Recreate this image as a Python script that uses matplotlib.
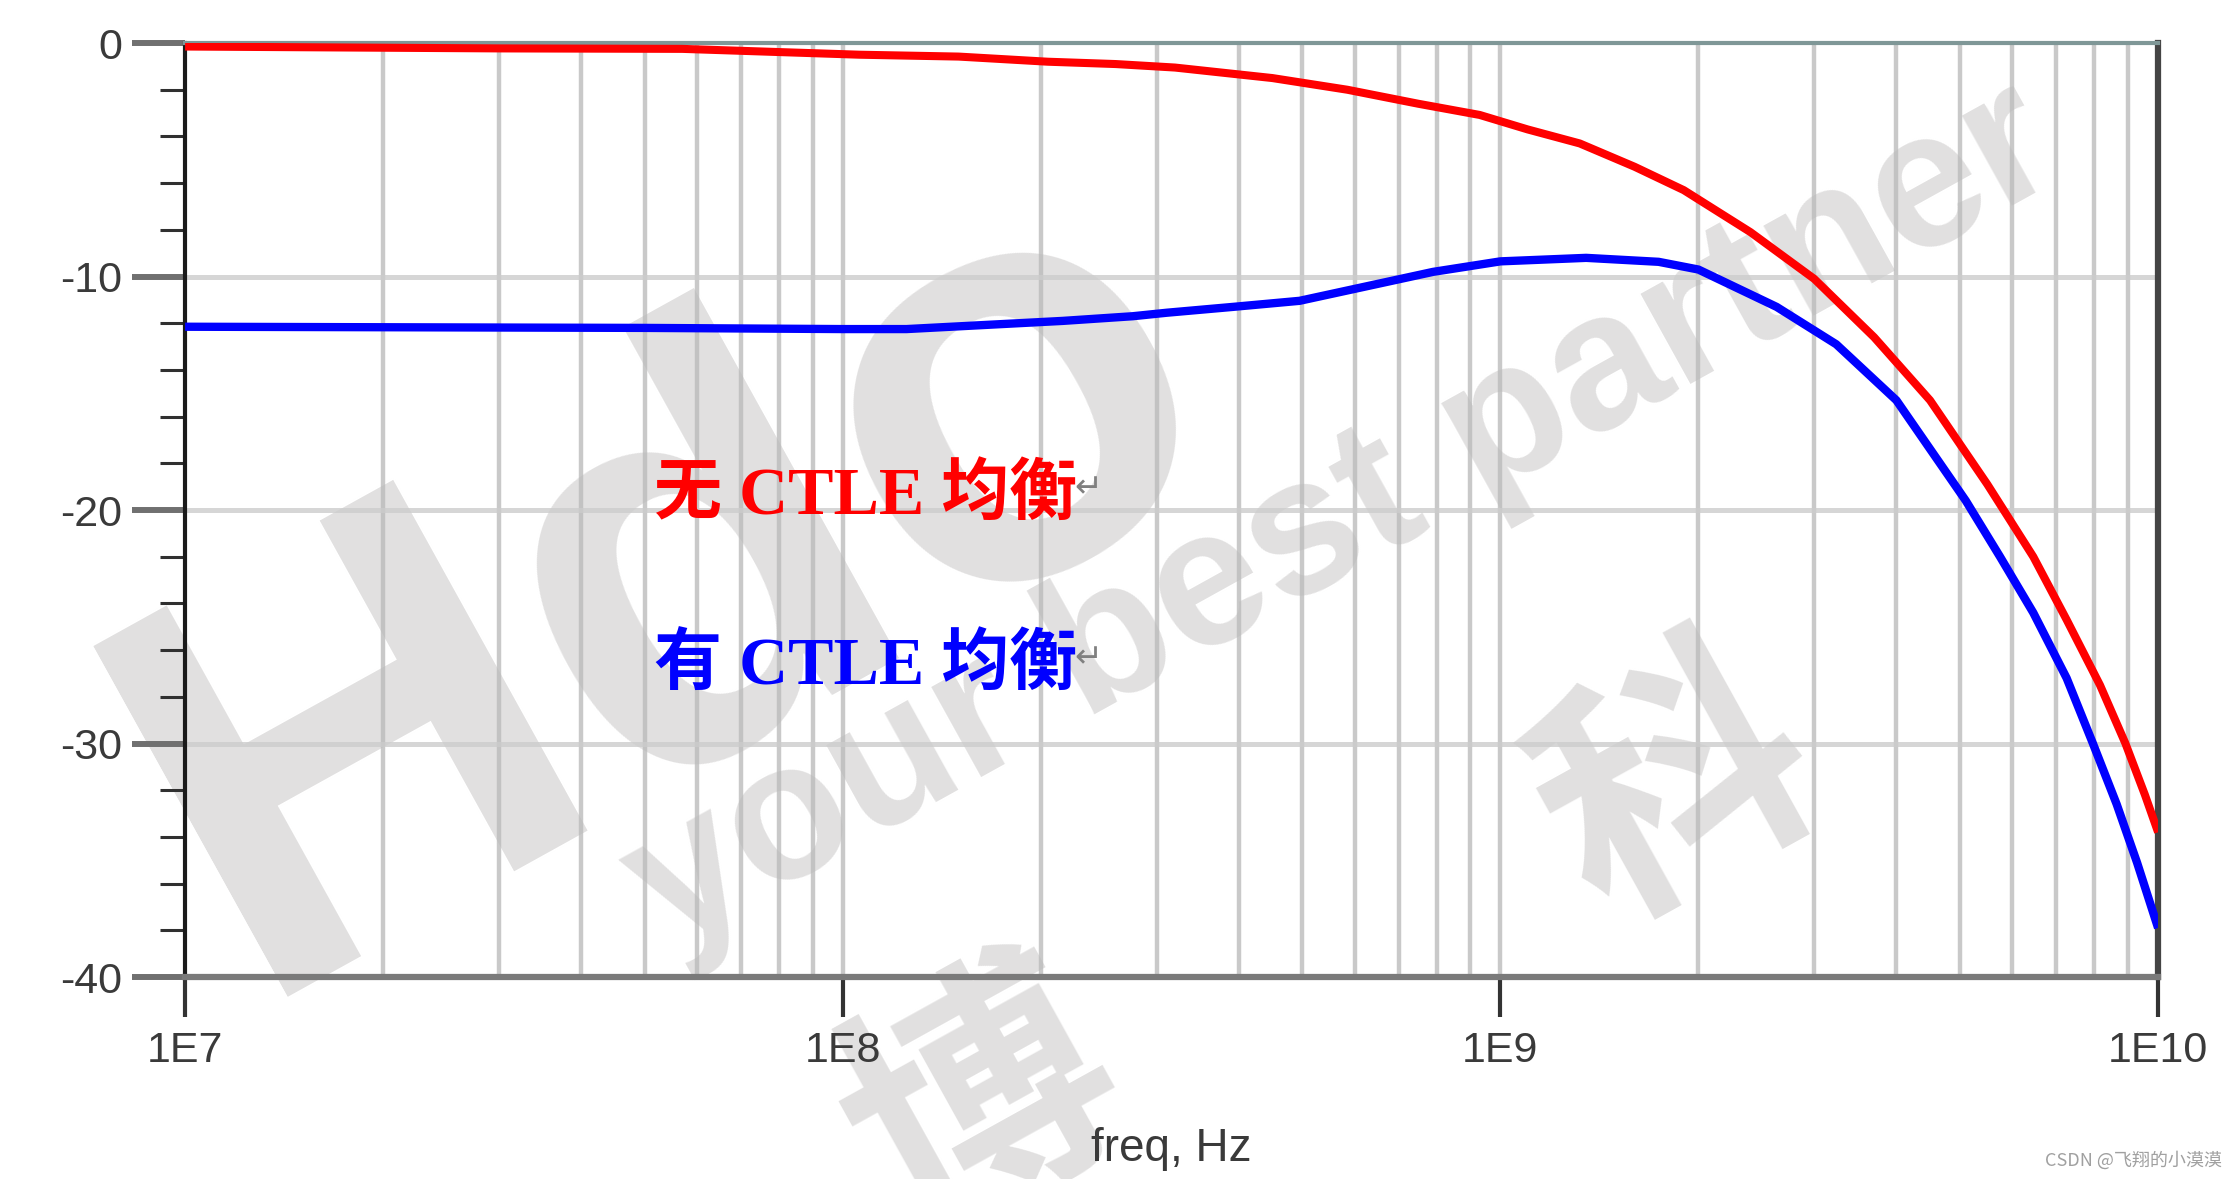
import numpy as np
import matplotlib
matplotlib.use("Agg")
import matplotlib.pyplot as plt
from matplotlib.ticker import FixedLocator, NullFormatter

# frequency response
red_freq = [1e7, 1.5e7, 3e7, 5.7e7, 1.06e8, 1.5e8, 2.05e8, 2.6e8, 3.2e8, 4.5e8,
            5.85e8, 7.5e8, 9.3e8, 1.1e9, 1.32e9, 1.6e9, 1.9e9, 2.4e9, 3.0e9,
            3.7e9, 4.5e9, 5.5e9, 6.46e9, 7.26e9, 8.16e9, 8.92e9, 9.55e9, 1e10]
red_db = [-0.15, -0.18, -0.23, -0.25, -0.5, -0.58, -0.8, -0.9, -1.05, -1.5,
          -2.0, -2.6, -3.08, -3.7, -4.3, -5.3, -6.3, -8.1, -10.1,
          -12.6, -15.3, -18.9, -22.0, -24.7, -27.5, -30.0, -32.2, -33.8]

blue_freq = [1e7, 5e7, 1e8, 1.25e8, 2.16e8, 2.76e8, 3.11e8, 3.92e8, 4.95e8,
             7.9e8, 1.0e9, 1.35e9, 1.74e9, 2.0e9, 2.63e9, 3.24e9, 4.0e9, 5.1e9,
             5.75e9, 6.46e9, 7.26e9, 7.96e9, 8.65e9, 9.29e9, 1e10]
blue_db = [-12.15, -12.2, -12.25, -12.25, -11.9, -11.7, -11.55, -11.3, -11.04,
           -9.8, -9.35, -9.2, -9.37, -9.7, -11.3, -12.9, -15.3, -19.6,
           -22.0, -24.4, -27.2, -30.0, -32.6, -35.1, -37.9]

red_label = "无 CTLE 均衡"
blue_label = "有 CTLE 均衡"
x_ticks = [1e7, 1e8, 1e9, 1e10]
x_ticklabels = ["1E7", "1E8", "1E9", "1E10"]
y_ticks = [0, -10, -20, -30, -40]

plt.rcParams["font.family"] = ["Liberation Sans", "DejaVu Sans"]

fig = plt.figure(figsize=(22.38, 11.79), dpi=100)
ax = fig.add_axes([0.0827, 0.1713, 0.8816, 0.7922])
ax.set_xscale("log")
ax.set_xlim(1e7, 1e10)
ax.set_ylim(-40, 0)

# faint background watermark, kept under grid and curves
wm = "#e1e0e0"
ft = fig.transFigure
ax.text(0.30, 0.50, "Hdo", fontsize=420, fontweight="bold", color=wm,
        rotation=29, ha="center", va="center", zorder=0.2, transform=ft, clip_on=False)
ax.text(0.60, 0.56, "your best partner", fontsize=140, fontweight="bold", color=wm,
        rotation=29, ha="center", va="center", zorder=0.2, transform=ft, clip_on=False)
for x, y, ch in [(0.44, 0.06, "博"), (0.75, 0.33, "科")]:
    ax.text(x, y, ch, fontsize=190, fontweight="bold", color=wm, rotation=29,
            ha="center", va="center", zorder=0.2, family="Noto Sans CJK SC",
            transform=ft, clip_on=False)

# grid
minor = [m * 10.0 ** e for e in range(7, 10) for m in range(2, 10)]
for f in minor + [1e8, 1e9]:
    ax.axvline(f, color="#b8b8b8", lw=3.2, alpha=0.75, zorder=0.5)
for y in [-10, -20, -30]:
    ax.axhline(y, color="#cccccc", lw=3.6, alpha=0.8, zorder=0.5)

ax.plot(red_freq, red_db, color="#ff0000", lw=5.8, solid_capstyle="butt",
        solid_joinstyle="round", zorder=3)
ax.plot(blue_freq, blue_db, color="#0000ff", lw=6.0, solid_capstyle="butt",
        solid_joinstyle="round", zorder=3)

# spines
ax.spines["left"].set_color("#1a1a1a")
ax.spines["left"].set_linewidth(3.0)
ax.spines["top"].set_color("#7f9797")
ax.spines["top"].set_linewidth(3.0)
ax.spines["bottom"].set_color("#7a7a7a")
ax.spines["bottom"].set_linewidth(4.5)
ax.spines["right"].set_color("#444444")
ax.spines["right"].set_linewidth(4.5)

# ticks
ax.xaxis.set_major_locator(FixedLocator(x_ticks))
ax.set_xticklabels(x_ticklabels)
ax.xaxis.set_minor_locator(FixedLocator([]))
ax.xaxis.set_minor_formatter(NullFormatter())
ax.tick_params(axis="x", which="major", direction="out", length=29, width=3.0,
               color="#333333", pad=10, labelsize=31, labelcolor="#3a3a3a")

ax.set_yticks(y_ticks)
ax.set_yticklabels([str(v) for v in y_ticks])
ax.yaxis.set_minor_locator(FixedLocator([v for v in range(-38, 0, 2) if v % 10]))
ax.tick_params(axis="y", which="major", direction="out", length=38, width=4.3,
               color="#707070", pad=7, labelsize=31, labelcolor="#3a3a3a")
ax.tick_params(axis="y", which="minor", direction="out", length=18, width=2.2,
               color="#303030")

ax.set_xlabel("freq, Hz", fontsize=33, color="#3a3a3a", labelpad=40)

# curve annotations
txt_family = ["Liberation Serif", "Noto Sans CJK SC"]
for y, lab, col in [(-19.4, red_label, "#ff0000"), (-26.7, blue_label, "#0000ff")]:
    ax.text(5.17e7, y, lab, color=col, fontsize=49, family=txt_family,
            fontweight="bold", va="center", ha="left", zorder=4)
    ax.text(2.25e8, y + 0.35, "\u21b5", color="#808080", fontsize=24,
            family="DejaVu Sans", va="center", ha="left", zorder=4)

fig.text(0.993, 0.008, "CSDN @飞翔的小漠漠", fontsize=13, color="#a0a0a0",
         family=["Noto Sans CJK SC", "DejaVu Sans"], ha="right", va="bottom")

fig.savefig("out.png", dpi=100)
